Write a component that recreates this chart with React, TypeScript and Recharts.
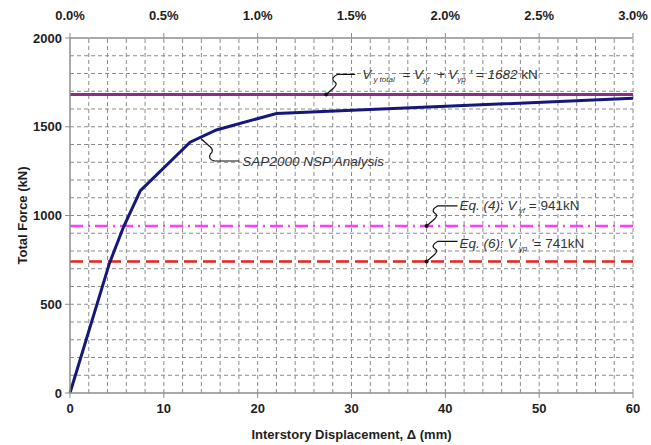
import React from 'react'
import {
  LineChart,
  Line,
  XAxis,
  YAxis,
  ReferenceLine,
  ReferenceDot,
  Label
} from 'recharts'

// pushover curve
const displacementMm = [0, 4.2, 5.7, 7.5, 12.8, 15.6, 22.0, 60]
const totalForceKn = [0, 730, 935, 1140, 1413, 1482, 1575, 1660]

// axis ticks
const xTicks = [0, 10, 20, 30, 40, 50, 60]
const driftLabels = ['0.0%', '0.5%', '1.0%', '1.5%', '2.0%', '2.5%', '3.0%']
const yTicks = [0, 500, 1000, 1500, 2000]

// dashed grid positions
const xGrid = [2, 4, 6, 8, 10, 12, 14, 16, 18, 20, 22, 24, 26, 28, 30, 32, 34, 36, 38, 40, 42, 44, 46, 48, 50, 52, 54, 56, 58, 60]
const yGrid = [100, 200, 300, 400, 500, 600, 700, 800, 900, 1000, 1100, 1200, 1300, 1400, 1500, 1600, 1700, 1800, 1900]

// capacity levels (kN)
const vyTotal = 1682
const vyf = 941
const vyp = 741

// where the leader lines touch the plot (mm, kN)
const totalAnchor = [27.3, 1682]
const sapAnchor = [14.0, 1431]
const eq4Anchor = [38.0, 941]
const eq6Anchor = [38.0, 741]

const data = displacementMm.map((x, i) => ({ x, force: totalForceKn[i] }))

const FONT = '"Liberation Sans", Arial, sans-serif'
const AXIS_GREY = '#8c8c8c'
const GRID_GREY = '#8a8a8a'
const tickStyle = { fill: '#1e1e1e', fontSize: 13, fontWeight: 'bold', fontFamily: FONT }

// squiggly leader: from the dot to a short horizontal run
const leaderUp = (cx: number, cy: number, run: number) =>
  `M${cx},${cy} L${cx + 8},${cy - 7} Q${cx + 12},${cy - 11} ${cx + 8},${cy - 13} Q${cx + 4},${cy - 16} ${cx + 11},${cy - 20} L${cx + run},${cy - 20}`
const leaderDown = (cx: number, cy: number, run: number) =>
  `M${cx},${cy} L${cx + 9},${cy + 8} Q${cx + 13},${cy + 12} ${cx + 9},${cy + 15} Q${cx + 6},${cy + 20} ${cx + 13},${cy + 22} L${cx + run},${cy + 22}`

const sub = { fontSize: 8, dy: 3 }
const textProps = {
  fontFamily: FONT,
  fontSize: 13.5,
  fontStyle: 'italic' as const,
  fill: '#333',
  style: { whiteSpace: 'pre' as const }
}

const TotalNote = ({ cx, cy }: any) => (
  <g>
    <path d={leaderUp(cx, cy, 29)} stroke="#111" strokeWidth={1.2} fill="none" />
    <circle cx={cx} cy={cy} r={2} fill="#111" />
    <text x={cx + 36} y={cy - 15} {...textProps}>
      <tspan>V</tspan>
      <tspan {...sub}> y total</tspan>
      <tspan dy={-3}>  = V</tspan>
      <tspan {...sub}>yf</tspan>
      <tspan dy={-3}>  + V</tspan>
      <tspan {...sub}>yp</tspan>
      <tspan dy={-3}> ' = 1682</tspan>
      <tspan fontStyle="normal"> kN</tspan>
    </text>
  </g>
)

const SapNote = ({ cx, cy }: any) => (
  <g>
    <path d={leaderDown(cx, cy, 38)} stroke="#111" strokeWidth={1.2} fill="none" />
    <text x={cx + 41} y={cy + 27} {...textProps}>
      SAP2000 NSP Analysis
    </text>
  </g>
)

const Eq4Note = ({ cx, cy }: any) => (
  <g>
    <path d={leaderUp(cx, cy, 31)} stroke="#111" strokeWidth={1.2} fill="none" />
    <circle cx={cx} cy={cy} r={2} fill="#111" />
    <text x={cx + 33} y={cy - 16} {...textProps}>
      <tspan>Eq. (4): V</tspan>
      <tspan {...sub}> yf</tspan>
      <tspan dy={-3} fontStyle="normal"> = 941kN</tspan>
    </text>
  </g>
)

const Eq6Note = ({ cx, cy }: any) => (
  <g>
    <path d={leaderUp(cx, cy, 31)} stroke="#111" strokeWidth={1.2} fill="none" />
    <circle cx={cx} cy={cy} r={2} fill="#111" />
    <text x={cx + 33} y={cy - 13} {...textProps}>
      <tspan>Eq. (6): V</tspan>
      <tspan {...sub}> yp</tspan>
      <tspan dy={-3}> '</tspan>
      <tspan fontStyle="normal">= 741kN</tspan>
    </text>
  </g>
)

export default function App() {
  return (
    <div style={{ position: 'absolute', left: 0, top: 0, background: '#fff' }}>
      <LineChart
        width={651}
        height={445}
        data={data}
        margin={{ top: 0, right: 18, left: 0, bottom: 0 }}
      >
        {xGrid.map((v) => (
          <ReferenceLine key={'gx' + v} x={v} stroke={GRID_GREY} strokeDasharray="4 3" />
        ))}
        {yGrid.map((v) => (
          <ReferenceLine key={'gy' + v} y={v} stroke={GRID_GREY} strokeDasharray="4 3" />
        ))}
        <XAxis
          dataKey="x"
          type="number"
          domain={[0, 60]}
          ticks={xTicks}
          height={52}
          tickSize={5}
          tickMargin={6}
          tick={tickStyle}
          axisLine={{ stroke: AXIS_GREY, strokeWidth: 1.5 }}
          tickLine={{ stroke: AXIS_GREY }}
        >
          <Label
            content={({ viewBox }: any) => (
              <text
                x={viewBox.x + viewBox.width / 2}
                y={viewBox.y + 46}
                textAnchor="middle"
                fontFamily={FONT}
                fontSize={13}
                fontWeight="bold"
                fill="#1e1e1e"
              >
                Interstory Displacement, Δ (mm)
              </text>
            )}
          />
        </XAxis>
        <XAxis
          xAxisId="top"
          orientation="top"
          dataKey="x"
          type="number"
          domain={[0, 60]}
          ticks={xTicks}
          tickFormatter={(_v: number, i: number) => driftLabels[i]}
          height={38}
          tickSize={5}
          tickMargin={13}
          tick={tickStyle}
          axisLine={{ stroke: AXIS_GREY, strokeWidth: 1.5 }}
          tickLine={{ stroke: AXIS_GREY }}
        />
        <YAxis
          type="number"
          domain={[0, 2000]}
          ticks={yTicks}
          width={70}
          tickSize={5}
          tickMargin={3}
          tick={tickStyle}
          axisLine={{ stroke: AXIS_GREY, strokeWidth: 1.5 }}
          tickLine={{ stroke: AXIS_GREY }}
        >
          <Label
            content={({ viewBox }: any) => {
              const cx = viewBox.x + 22
              const cy = viewBox.y + viewBox.height / 2
              return (
                <text
                  x={cx}
                  y={cy}
                  transform={`rotate(-90 ${cx} ${cy})`}
                  textAnchor="middle"
                  dominantBaseline="central"
                  fontFamily={FONT}
                  fontSize={13}
                  fontWeight="bold"
                  fill="#1e1e1e"
                >
                  Total Force (kN)
                </text>
              )
            }}
          />
        </YAxis>
        <ReferenceLine y={vyp} stroke="#e8221f" strokeWidth={2.5} strokeDasharray="13 6" />
        <ReferenceLine y={vyf} stroke="#ff3cff" strokeWidth={2.5} strokeDasharray="13 5 2 5" />
        <ReferenceLine y={vyTotal} stroke="#8c2c88" strokeWidth={3} />
        <Line
          type="linear"
          dataKey="force"
          stroke="#15177a"
          strokeWidth={3}
          dot={false}
          isAnimationActive={false}
        />
        <ReferenceDot x={totalAnchor[0]} y={totalAnchor[1]} shape={TotalNote} />
        <ReferenceDot x={sapAnchor[0]} y={sapAnchor[1]} shape={SapNote} />
        <ReferenceDot x={eq4Anchor[0]} y={eq4Anchor[1]} shape={Eq4Note} />
        <ReferenceDot x={eq6Anchor[0]} y={eq6Anchor[1]} shape={Eq6Note} />
      </LineChart>
    </div>
  )
}
